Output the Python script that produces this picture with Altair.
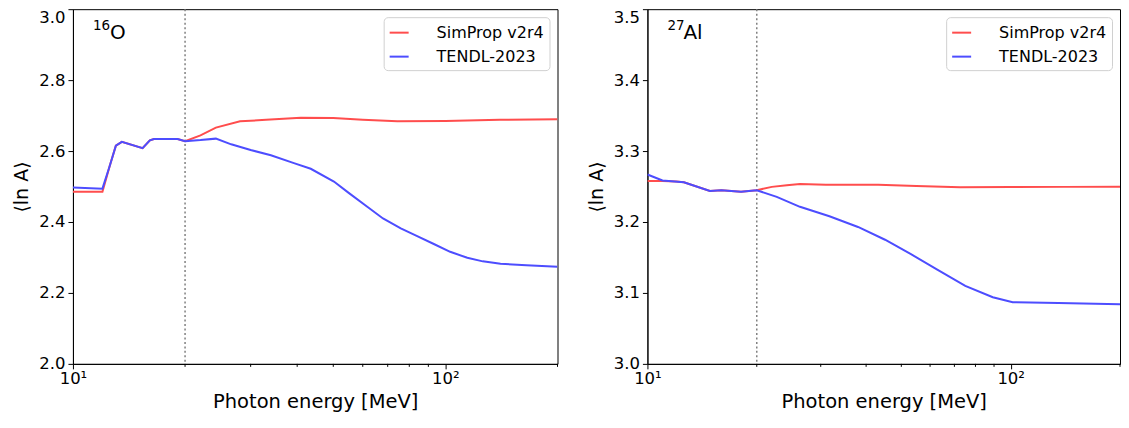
import altair as alt
import pandas as pd

FONT = "DejaVu Sans"
SERIES = ["SimProp v2r4", "TENDL-2023"]
COLORS = ["#ff4d4d", "#4d4dff"]

# ---- 16O panel ----
o_sim_E = [10, 12.0, 12.57, 13.04, 13.53, 15.38, 16.09, 16.5, 19.1, 20, 22.0, 24.2, 28.1, 33, 40.9, 50, 60, 74.3, 100, 140, 200]
o_sim_v = [2.485, 2.485, 2.56, 2.615, 2.626, 2.608, 2.630, 2.634, 2.634, 2.628, 2.644, 2.666, 2.684, 2.688, 2.694, 2.693, 2.688, 2.684, 2.685, 2.688, 2.690]
o_ten_E = [10, 12.0, 12.57, 13.04, 13.53, 15.38, 16.09, 16.5, 19.1, 20, 22.0, 24.2, 26.6, 30.0, 34, 39.2, 43.5, 50.2, 55, 61.7, 68, 75.9, 84, 93.1, 103, 114.5, 126, 140.6, 165, 200]
o_ten_v = [2.497, 2.494, 2.56, 2.615, 2.626, 2.608, 2.630, 2.634, 2.634, 2.628, 2.631, 2.635, 2.619, 2.603, 2.588, 2.566, 2.550, 2.514, 2.482, 2.443, 2.410, 2.382, 2.360, 2.338, 2.316, 2.299, 2.289, 2.282, 2.278, 2.274]

# ---- 27Al panel ----
al_sim_E = [10, 11.0, 12.0, 12.6, 14.86, 15.98, 18.1, 20, 22.0, 24.2, 26.3, 31.0, 43.2, 55, 72.6, 100, 140, 200]
al_sim_v = [3.2577, 3.2578, 3.2572, 3.256, 3.2437, 3.2447, 3.2428, 3.2447, 3.2495, 3.2517, 3.2535, 3.2525, 3.2525, 3.2508, 3.2490, 3.2492, 3.2495, 3.2497]
al_ten_E = [10, 11.0, 12.6, 14.86, 15.98, 18.1, 20, 22.7, 26.3, 31.7, 38, 45.1, 53, 62.8, 75, 89.3, 101.3, 135.4, 200]
al_ten_v = [3.267, 3.2586, 3.256, 3.2437, 3.2447, 3.2428, 3.2447, 3.2354, 3.2214, 3.208, 3.193, 3.175, 3.155, 3.133, 3.110, 3.094, 3.0868, 3.0859, 3.084]

major_ticks = [10, 100]
minor_ticks = [20, 30, 40, 50, 60, 70, 80, 90, 200]
threshold = [20]

W_LEFT, W_RIGHT, H = 485, 473, 355


def frame(E_a, v_a, E_b, v_b):
    return pd.concat([
        pd.DataFrame({"E": E_a, "v": v_a, "src": SERIES[0]}),
        pd.DataFrame({"E": E_b, "v": v_b, "src": SERIES[1]}),
    ])


def panel(df, ydom, yvals, mass, elem, elem_x, width):
    xscale = alt.Scale(type="log", domain=[10, 200], nice=False)
    yscale = alt.Scale(domain=ydom, nice=False, zero=False)
    top_label_shift = {"condition": {"test": f"datum.value == {ydom[1]}", "value": 8}, "value": 0}
    lines = alt.Chart(df).mark_line(strokeWidth=2, clip=True).encode(
        x=alt.X("E:Q", scale=xscale, axis=alt.Axis(
            values=major_ticks, labelExpr="datum.value == 10 ? '10¹' : '10²'",
            title="Photon energy [MeV]", grid=False, tickSize=5, tickColor="black",
            domainColor="black", labelFontSize=16.5, titleFontSize=19.5,
            labelColor="black", titleColor="black", titleFontWeight="normal",
            labelPadding=2, titlePadding=5, labelFlush=False)),
        y=alt.Y("v:Q", scale=yscale, axis=alt.Axis(
            values=yvals, format=".1f", title="⟨ln A⟩", grid=False, tickSize=5,
            tickColor="black", domainColor="black", labelFontSize=16.5,
            titleFontSize=19, labelColor="black", titleColor="black",
            titleFontWeight="normal", labelPadding=3, titlePadding=7,
            labelOffset=top_label_shift)),
        color=alt.Color("src:N", scale=alt.Scale(domain=SERIES, range=COLORS),
                        legend=alt.Legend(
                            title=None, orient="top-right", offset=8,
                            strokeColor="#d0d0d0", fillColor="white", cornerRadius=4,
                            padding=5, symbolType="stroke", symbolStrokeWidth=2,
                            symbolSize=361, labelFontSize=16, labelColor="black",
                            labelOffset=27, rowPadding=5, labelFont=FONT)),
    )
    minor = alt.Chart(pd.DataFrame({"E": minor_ticks})).mark_rule(
        color="black", strokeWidth=1).encode(
        x=alt.X("E:Q", scale=xscale),
        y=alt.value(H), y2=alt.value(H + 3))
    vline = alt.Chart(pd.DataFrame({"E": threshold})).mark_rule(
        color="#808080", strokeWidth=1.5, strokeDash=[2, 2.5]).encode(
        x=alt.X("E:Q", scale=xscale))
    sup = alt.Chart(pd.DataFrame({"t": [mass]})).mark_text(
        align="left", baseline="alphabetic", fontSize=13.5, font=FONT, color="black").encode(
        text="t:N", x=alt.value(20), y=alt.value(21))
    main = alt.Chart(pd.DataFrame({"t": [elem]})).mark_text(
        align="left", baseline="alphabetic", fontSize=20, font=FONT, color="black").encode(
        text="t:N", x=alt.value(elem_x), y=alt.value(30))
    return alt.layer(vline, lines, minor, sup, main).properties(width=width, height=H)


left = panel(frame(o_sim_E, o_sim_v, o_ten_E, o_ten_v), [2.0, 3.0],
             [2.0, 2.2, 2.4, 2.6, 2.8, 3.0], "16", "O", 37, W_LEFT)
right = panel(frame(al_sim_E, al_sim_v, al_ten_E, al_ten_v), [3.0, 3.5],
              [3.0, 3.1, 3.2, 3.3, 3.4, 3.5], "27", "Al", 36, W_RIGHT)

chart = alt.hconcat(left, right, spacing=28).resolve_scale(
    color="independent").resolve_legend(color="independent").properties(
    padding={"left": 4, "top": -1, "right": 0, "bottom": 0}
).configure(font=FONT).configure_view(stroke="black", strokeWidth=1)

chart.save("out.html", embed_options={"renderer": "svg", "actions": False})
